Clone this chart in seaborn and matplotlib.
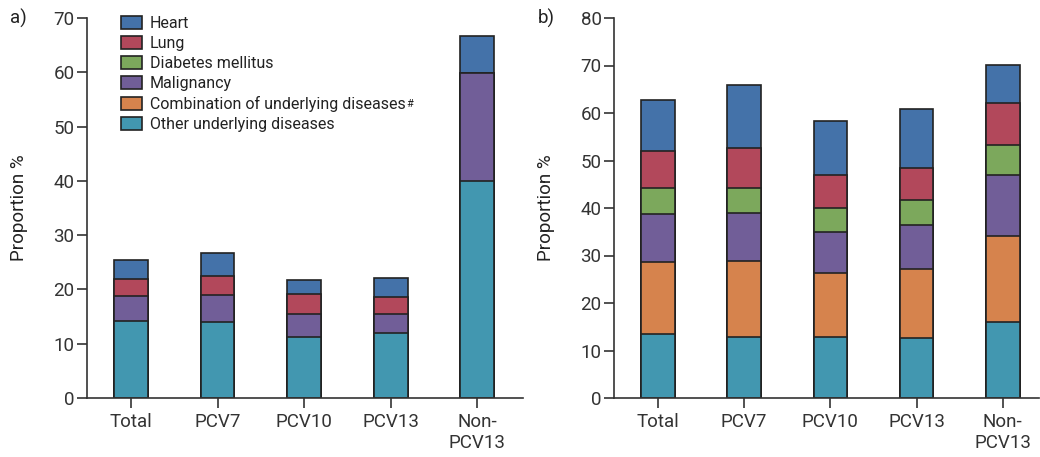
import numpy as np
import pandas as pd
import matplotlib
matplotlib.use('Agg')
import matplotlib.pyplot as plt
from matplotlib.patches import Patch
import seaborn as sns

# dane
grupy = ['Total', 'PCV7', 'PCV10', 'PCV13', 'Non-\nPCV13']
choroby = ['Other underlying diseases', 'Combination of underlying diseases',
           'Malignancy', 'Diabetes mellitus', 'Lung', 'Heart']
kolory = ['#4297b0', '#d6834d', '#715e98', '#7ca85c', '#b2485b', '#4472a9']

# panel a) - tylko 4 kategorie
a_other = [14.1, 14.0, 11.3, 12.0, 39.9]
a_malignancy = [4.6, 4.9, 4.1, 3.4, 19.9]
a_lung = [3.3, 3.6, 3.7, 3.2, 0.0]
a_heart = [3.4, 4.3, 2.6, 3.5, 6.8]

# panel b)
b_other = [13.4, 12.9, 12.9, 12.7, 15.9]
b_combination = [15.3, 15.9, 13.4, 14.5, 18.3]
b_malignancy = [10.0, 10.2, 8.6, 9.2, 12.8]
b_diabetes = [5.5, 5.3, 5.2, 5.3, 6.3]
b_lung = [7.7, 8.3, 6.8, 6.7, 8.8]
b_heart = [10.9, 13.3, 11.4, 12.4, 8.1]

sns.set_style('ticks')
plt.rcParams['font.family'] = ['Roboto', 'DejaVu Sans']
plt.rcParams['axes.edgecolor'] = '#333333'
plt.rcParams['xtick.color'] = '#333333'
plt.rcParams['ytick.color'] = '#333333'
plt.rcParams['text.color'] = '#222222'
plt.rcParams['axes.labelcolor'] = '#222222'

fig = plt.figure(figsize=(10.4, 4.57), dpi=100)
ax1 = fig.add_axes([87/1040, 1-398/457, (523-87)/1040, (398-18)/457])
ax2 = fig.add_axes([614/1040, 1-398/457, (1039-614)/1040, (398-18)/457])


def rysuj(ax, serie, kol):
    # skumulowane sumy, rysowane od gory do dolu
    cum = np.cumsum(np.array(serie), axis=0)
    for i in range(len(serie) - 1, -1, -1):
        df = pd.DataFrame({'grupa': grupy, 'wartosc': cum[i]})
        sns.barplot(data=df, x='grupa', y='wartosc', color=kol[i], saturation=1,
                    width=0.39, edgecolor='#222222', linewidth=1.2, ax=ax)


rysuj(ax1, [a_other, a_malignancy, a_lung, a_heart],
      [kolory[0], kolory[2], kolory[4], kolory[5]])
rysuj(ax2, [b_other, b_combination, b_malignancy, b_diabetes, b_lung, b_heart], kolory)

for ax, top in [(ax1, 70), (ax2, 80)]:
    ax.set_ylim(0, top)
    ax.set_yticks(range(0, top + 1, 10))
    ax.set_xlim(-0.51, 4.53 if ax is ax1 else 4.42)
    sns.despine(ax=ax)
    ax.spines['left'].set_linewidth(1.2)
    ax.spines['bottom'].set_linewidth(1.2)
    ax.tick_params(axis='both', labelsize=13.5, width=1.2)
    ax.tick_params(axis='x', length=7, pad=4)
    ax.tick_params(axis='y', length=7, pad=2)
    ax.set_xlabel('')
    ax.set_ylabel('Proportion %', fontsize=13.5, labelpad=18)

# legenda
uchwyty = [Patch(facecolor=kolory[i], edgecolor='#222222', linewidth=1.2, label=choroby[i])
           for i in range(5, -1, -1)]
leg = ax1.legend(handles=uchwyty, loc='upper left', bbox_to_anchor=(0.078, 1.005), frameon=False,
                 fontsize=11.5, handlelength=1.3, handleheight=0.9, handletextpad=0.5,
                 labelspacing=0.3, borderpad=0, borderaxespad=0)

# znak # jako indeks gorny przy "Combination..."
fig.canvas.draw()
bb = leg.get_texts()[4].get_window_extent().transformed(fig.transFigure.inverted())
fig.text(bb.x1 + 1/1040, bb.y1 - 3/457, '#', fontsize=8, va='top', ha='left')

fig.text(10/1040, 1-18/457, 'a)', fontsize=13.5, va='center')
fig.text(538/1040, 1-18/457, 'b)', fontsize=13.5, va='center')

plt.savefig('out.png', dpi=100)
